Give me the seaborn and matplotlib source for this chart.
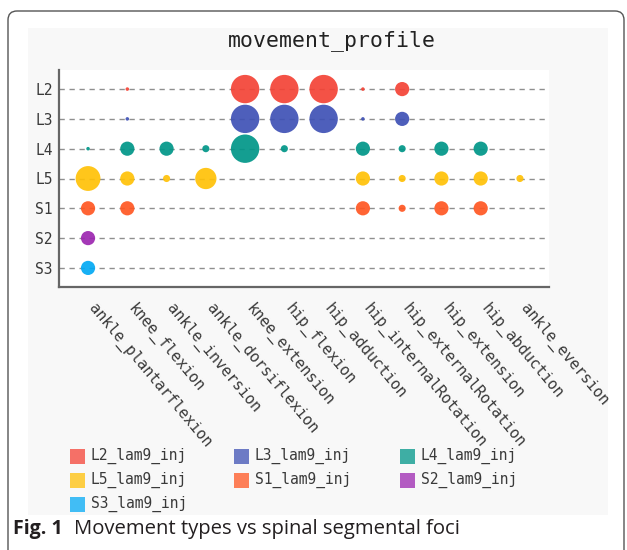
import numpy as np
import pandas as pd
import matplotlib
import matplotlib.pyplot as plt
import seaborn as sns
from matplotlib.patches import Rectangle, FancyBboxPatch
from matplotlib.transforms import IdentityTransform

# ---------- data ---------- #
movements = ["ankle_plantarflexion", "knee_flexion", "ankle_inversion", "ankle_dorsiflexion",
             "knee_extension", "hip_flexion", "hip_adduction", "hip_internalRotation",
             "hip_externalRotation", "hip_extension", "hip_abduction", "ankle_eversion"]
segments = ["L2", "L3", "L4", "L5", "S1", "S2", "S3"]
series_names = [s + "_lam9_inj" for s in segments]
colors = ["#F44336", "#3F51B5", "#009688", "#FFC107", "#FF5722", "#9C27B0", "#03A9F4"]

L2 = [0, 1, 0, 0, 8, 8, 8, 1, 4, 0, 0, 0]
L3 = [0, 1, 0, 0, 8, 8, 8, 1, 4, 0, 0, 0]
L4 = [1, 4, 4, 2, 8, 2, 0, 4, 2, 4, 4, 0]
L5 = [7, 4, 2, 6, 0, 0, 0, 4, 2, 4, 4, 2]
S1 = [4, 4, 0, 0, 0, 0, 0, 4, 2, 4, 4, 0]
S2 = [4, 0, 0, 0, 0, 0, 0, 0, 0, 0, 0, 0]
S3 = [4, 0, 0, 0, 0, 0, 0, 0, 0, 0, 0, 0]
values = [L2, L3, L4, L5, S1, S2, S3]

rows = []
for seg, name, vals in zip(segments, series_names, values):
    for mov, v in zip(movements, vals):
        if v > 0:
            rows.append({"movement": mov, "segment": seg, "series": name, "value": v})
df = pd.DataFrame(rows)
df["x"] = pd.Categorical(df["movement"], categories=movements).codes
df["y"] = pd.Categorical(df["segment"], categories=segments).codes

# ---------- figure ---------- #
sns.set_theme(style="white")
plt.rcParams["font.family"] = ["DejaVu Sans Mono"]

W, H, DPI = 627, 550, 100
fig = plt.figure(figsize=(W / DPI, H / DPI), dpi=DPI)
fig.patch.set_facecolor("white")


def fx(px):
    return px / W


def fy(py):
    return 1 - py / H


# grey chart panel + rounded frame
fig.add_artist(Rectangle((fx(28), fy(515)), fx(608) - fx(28), fy(28) - fy(515),
                         transform=fig.transFigure, facecolor="#f8f8f8", edgecolor="none", zorder=-10))
fig.add_artist(FancyBboxPatch((8, -40), 616, H - 11 + 40, boxstyle="round,pad=0,rounding_size=9",
                              transform=IdentityTransform(), facecolor="none",
                              edgecolor="#555555", lw=1.0, zorder=-5))

ax = fig.add_axes([fx(59), fy(287), fx(549) - fx(59), fy(70) - fy(287)])
ax.set_facecolor("white")
ax.set_xlim(-0.74, len(movements) - 1 + 0.74)
ax.set_ylim(len(segments) - 1 + 0.64, -0.64)

# dot radius proportional to value (largest dot fills ~ one cell)
bbox = ax.get_window_extent()
ppx = bbox.width / (ax.get_xlim()[1] - ax.get_xlim()[0])
ppy = bbox.height / abs(ax.get_ylim()[1] - ax.get_ylim()[0])
r_max = min(ppx, ppy) / 2.1
vmax = df["value"].max()
df["area"] = (2 * r_max * df["value"] / vmax * 72 / DPI) ** 2
amin, amax = df["area"].min(), df["area"].max()

sns.scatterplot(data=df, x="x", y="y", hue="series", hue_order=series_names, palette=colors,
                size="area", sizes=(amin, amax), size_norm=(amin, amax),
                alpha=0.92, linewidth=0, legend=False, ax=ax, zorder=3)

ax.set_xticks(range(len(movements)))
ax.set_xticklabels(movements, rotation=-50, ha="left", va="baseline", rotation_mode="anchor",
                   fontsize=11, color="#3a3a3a")
ax.set_yticks(range(len(segments)))
ax.set_yticklabels(segments, fontsize=10.5, color="#3a3a3a")
ax.tick_params(axis="x", length=0, pad=15)
ax.tick_params(axis="y", length=0, pad=4.5)
ax.set_xlabel("")
ax.set_ylabel("")

ax.grid(axis="y", linestyle=(0, (3.8, 3.4)), color="#8f8f8f", lw=1.0)
ax.grid(axis="x", visible=False)
ax.set_axisbelow(True)
for side in ["top", "right"]:
    ax.spines[side].set_visible(False)
for side in ["left", "bottom"]:
    ax.spines[side].set_color("#666666")
    ax.spines[side].set_linewidth(1.6)

fig.text(fx(332), fy(41), "movement_profile", ha="center", va="center", fontsize=15.5, color="#222222")

# legend (3 columns, row-wise)
col_x = [70, 234, 400]
row_y = [456, 480, 504]
for i, (name, c) in enumerate(zip(series_names, colors)):
    x0, y0 = col_x[i % 3], row_y[i // 3]
    fig.add_artist(Rectangle((fx(x0), fy(y0 + 7.5)), fx(15), 15 / H, transform=fig.transFigure,
                             facecolor=c, alpha=0.75, edgecolor="none"))
    fig.text(fx(x0 + 21), fy(y0), name, ha="left", va="center", fontsize=10.5, color="#3a3a3a")

# caption
fig.text(fx(13), fy(529), "Fig. 1", ha="left", va="center", fontsize=14, fontweight="bold",
         family=["Open Sans", "DejaVu Sans"], color="#231f20")
fig.text(fx(74), fy(529), "Movement types vs spinal segmental foci", ha="left", va="center",
         fontsize=14.6, family=["Open Sans", "DejaVu Sans"], color="#231f20")

fig.savefig("out.png", dpi=DPI)
